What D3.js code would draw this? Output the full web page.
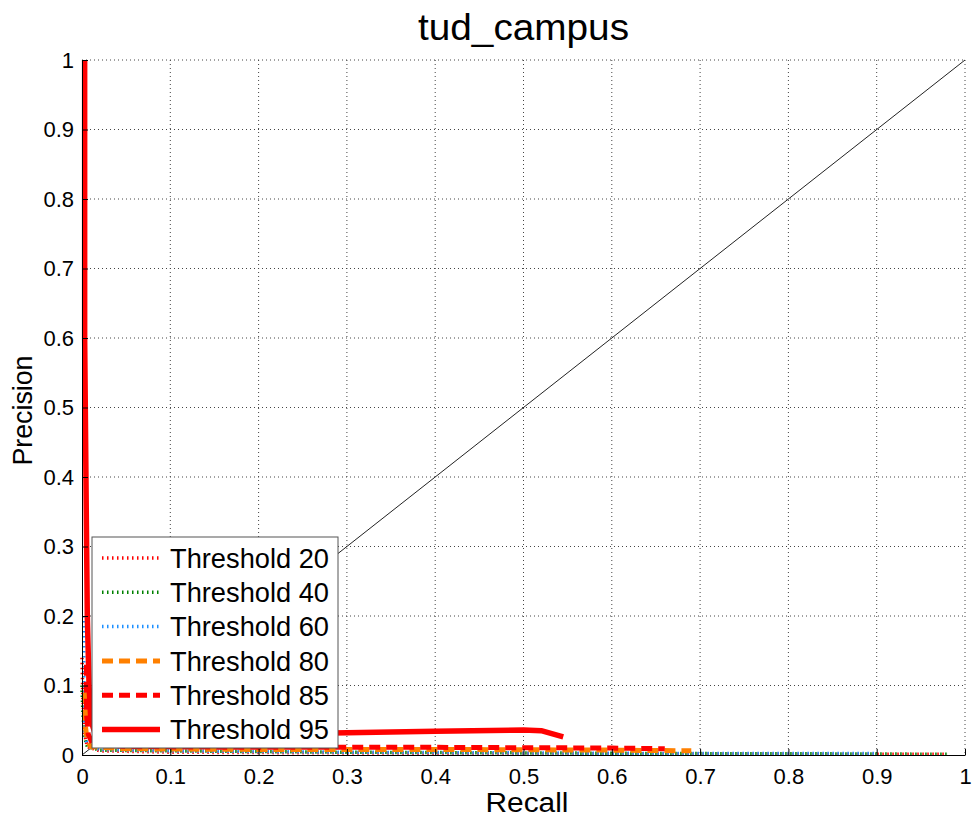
<!DOCTYPE html>
<html>
<head>
<meta charset="utf-8">
<script src="https://cdn.jsdelivr.net/npm/d3@7"></script>
<style>
  body { margin: 0; background: #fff; }
  svg { display: block; font-family: "Liberation Sans", Arial, sans-serif; }
</style>
</head>
<body>
<div id="chart"></div>
<script>
// data
const titleText = "tud_campus";
const xTicks = [0, 0.1, 0.2, 0.3, 0.4, 0.5, 0.6, 0.7, 0.8, 0.9, 1];
const yTicks = [0, 0.1, 0.2, 0.3, 0.4, 0.5, 0.6, 0.7, 0.8, 0.9, 1];

const t20Recall = [0, 0.001, 0.003, 0.006, 0.02, 0.1, 0.3, 0.5, 0.7, 0.9, 0.98];
const t20Prec   = [0.14, 0.08, 0.03, 0.012, 0.006, 0.004, 0.003, 0.002, 0.0015, 0.001, 0.001];

const t40Recall = [0, 0.001, 0.003, 0.006, 0.02, 0.1, 0.3, 0.5, 0.7, 0.9, 0.98];
const t40Prec   = [0.1, 0.06, 0.025, 0.012, 0.007, 0.006, 0.004, 0.003, 0.002, 0.0015, 0.001];

const t60Recall = [0.002, 0.002, 0.003, 0.006, 0.02, 0.1, 0.3, 0.5, 0.7, 0.9];
const t60Prec   = [0.2, 0.05, 0.03, 0.015, 0.008, 0.006, 0.004, 0.003, 0.002, 0.002];

const t80Recall = [0.004, 0.004, 0.006, 0.01, 0.05, 0.2, 0.4, 0.6, 0.69];
const t80Prec   = [0.09, 0.04, 0.02, 0.012, 0.009, 0.008, 0.008, 0.007, 0.006];

const t85Recall = [0.005, 0.005, 0.007, 0.012, 0.05, 0.2, 0.4, 0.6, 0.66];
const t85Prec   = [0.13, 0.06, 0.03, 0.016, 0.012, 0.011, 0.011, 0.01, 0.009];

const t95Recall = [0.003, 0.003, 0.005, 0.006, 0.008, 0.01, 0.015, 0.1, 0.3, 0.4, 0.5, 0.52, 0.545];
const t95Prec   = [1, 0.6, 0.33, 0.2, 0.1, 0.05, 0.03, 0.028, 0.032, 0.034, 0.036, 0.035, 0.026];

const seriesNames = ["Threshold 20", "Threshold 40", "Threshold 60", "Threshold 80", "Threshold 85", "Threshold 95"];
const seriesColors = ["#ff0000", "#008000", "#1e90ff", "#ff8000", "#ff0000", "#ff0000"];

const series = [
  { name: seriesNames[0], color: seriesColors[0], w: 3.5, dash: "1.5,3.5", r: t20Recall, p: t20Prec },
  { name: seriesNames[1], color: seriesColors[1], w: 3.5, dash: "1.5,3.5", r: t40Recall, p: t40Prec },
  { name: seriesNames[2], color: seriesColors[2], w: 3.5, dash: "1.5,3.5", r: t60Recall, p: t60Prec },
  { name: seriesNames[3], color: seriesColors[3], w: 5, dash: "11,6", r: t80Recall, p: t80Prec },
  { name: seriesNames[4], color: seriesColors[4], w: 5, dash: "11,6", r: t85Recall, p: t85Prec },
  { name: seriesNames[5], color: seriesColors[5], w: 5.5, dash: null, r: t95Recall, p: t95Prec }
];

const width = 972, height = 817;
const margin = { top: 60, right: 7, bottom: 62, left: 82 };
const innerW = width - margin.left - margin.right;
const innerH = height - margin.top - margin.bottom;

const svg = d3.select("#chart").append("svg")
  .attr("width", width).attr("height", height);

const g = svg.append("g").attr("transform", `translate(${margin.left},${margin.top})`);

const x = d3.scaleLinear().domain([0, 1]).range([0, innerW]);
const y = d3.scaleLinear().domain([0, 1]).range([innerH, 0]);

// grid (dotted)
g.append("g").selectAll("line").data(xTicks.slice(1)).join("line")
  .attr("x1", d => x(d)).attr("x2", d => x(d))
  .attr("y1", 0).attr("y2", innerH)
  .attr("stroke", "#444").attr("stroke-width", 1).attr("stroke-dasharray", "1,3");
g.append("g").selectAll("line").data(yTicks.slice(1)).join("line")
  .attr("y1", d => y(d)).attr("y2", d => y(d))
  .attr("x1", 0).attr("x2", innerW)
  .attr("stroke", "#444").attr("stroke-width", 1).attr("stroke-dasharray", "1,3");

// diagonal reference
g.append("line")
  .attr("x1", x(0)).attr("y1", y(0)).attr("x2", x(1)).attr("y2", y(1))
  .attr("stroke", "#222").attr("stroke-width", 1);

// curves
const line = d3.line().x(d => x(d[0])).y(d => y(d[1]));
series.forEach(s => {
  g.append("path")
    .datum(s.r.map((v, i) => [v, s.p[i]]))
    .attr("d", line)
    .attr("fill", "none")
    .attr("stroke", s.color)
    .attr("stroke-width", s.w)
    .attr("stroke-dasharray", s.dash)
    .attr("stroke-linejoin", "round");
});

// axes
const xAxis = g.append("g")
  .attr("transform", `translate(0,${innerH})`)
  .call(d3.axisBottom(x).tickValues(xTicks).tickFormat(d3.format("")).tickSizeInner(-6).tickSizeOuter(0).tickPadding(13));
const yAxis = g.append("g")
  .call(d3.axisLeft(y).tickValues(yTicks).tickFormat(d3.format("")).tickSizeInner(-6).tickSizeOuter(0).tickPadding(8));
[xAxis, yAxis].forEach(a => {
  a.select(".domain").attr("stroke", "#000").attr("stroke-width", 1);
  a.selectAll(".tick line").attr("stroke", "#000");
  a.selectAll(".tick text").attr("font-size", 22).attr("fill", "#000")
    .attr("font-family", "'Liberation Sans', Arial, sans-serif");
});

// legend
const lg = g.append("g").attr("transform", `translate(${92 - margin.left},${537 - margin.top})`);
lg.append("rect")
  .attr("width", 246).attr("height", 211)
  .attr("fill", "#fff").attr("stroke", "#555").attr("stroke-width", 1);
series.forEach((s, i) => {
  const cy = 21 + i * 34.3;
  lg.append("line")
    .attr("x1", 10).attr("x2", 68).attr("y1", cy).attr("y2", cy)
    .attr("stroke", s.color).attr("stroke-width", s.w)
    .attr("stroke-dasharray", s.dash);
  lg.append("text")
    .attr("x", 78).attr("y", cy).attr("dy", "0.36em")
    .attr("font-size", 27).attr("fill", "#000")
    .attr("textLength", 159).attr("lengthAdjust", "spacingAndGlyphs")
    .text(s.name);
});

// labels
svg.append("text")
  .attr("x", margin.left + innerW / 2).attr("y", 40)
  .attr("text-anchor", "middle").attr("font-size", 36).attr("fill", "#000")
  .attr("textLength", 211).attr("lengthAdjust", "spacingAndGlyphs")
  .text(titleText);
svg.append("text")
  .attr("x", 527).attr("y", 812)
  .attr("text-anchor", "middle").attr("font-size", 27).attr("fill", "#000")
  .attr("textLength", 83).attr("lengthAdjust", "spacingAndGlyphs")
  .text("Recall");
svg.append("text")
  .attr("transform", `translate(32,${margin.top + innerH / 2 + 3}) rotate(-90)`)
  .attr("text-anchor", "middle").attr("font-size", 27).attr("fill", "#000")
  .attr("textLength", 110).attr("lengthAdjust", "spacingAndGlyphs")
  .text("Precision");
</script>
</body>
</html>
